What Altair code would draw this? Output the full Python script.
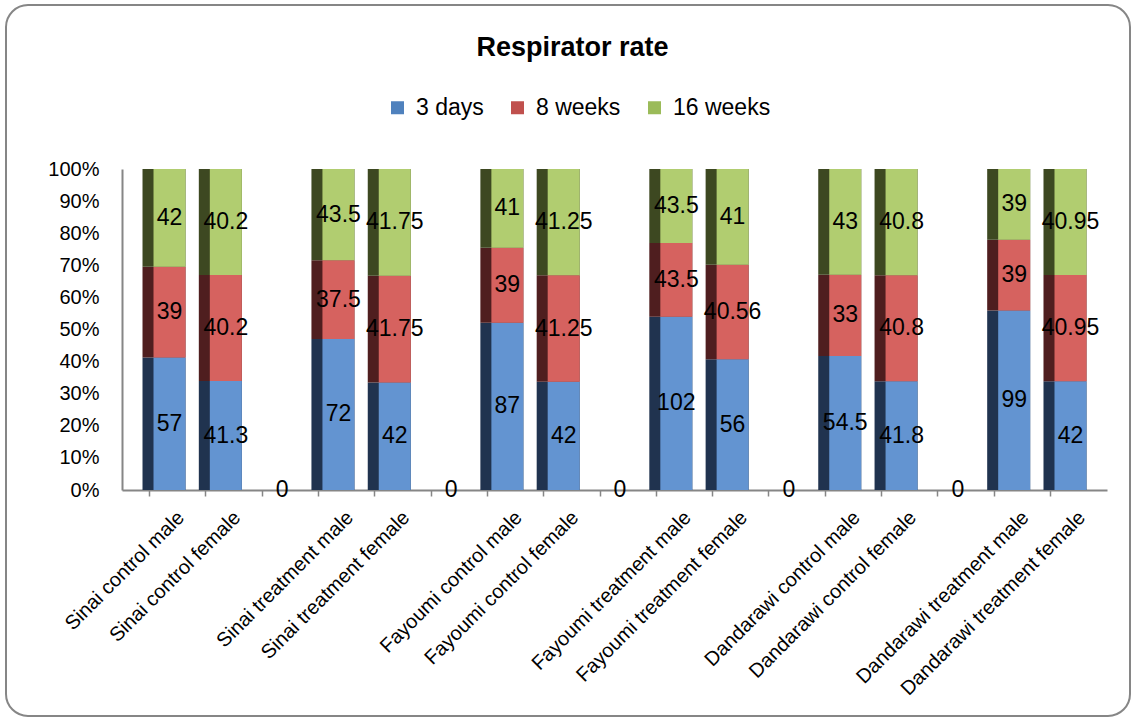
import altair as alt
import pandas as pd

categories = [
    "Sinai control male", "Sinai control female", " ",
    "Sinai treatment male", "Sinai treatment female", "  ",
    "Fayoumi control male", "Fayoumi control female", "   ",
    "Fayoumi treatment male", "Fayoumi treatment female", "    ",
    "Dandarawi control male", "Dandarawi control female", "     ",
    "Dandarawi treatment male", "Dandarawi treatment female",
]
bar_categories = [c for c in categories if c.strip()]
blank_categories = [c for c in categories if not c.strip()]

series = ["3 days", "8 weeks", "16 weeks"]
days3 = [57, 41.3, 72, 42, 87, 42, 102, 56, 54.5, 41.8, 99, 42]
weeks8 = [39, 40.2, 37.5, 41.75, 39, 41.25, 43.5, 40.56, 33, 40.8, 39, 40.95]
weeks16 = [42, 40.2, 43.5, 41.75, 41, 41.25, 43.5, 41, 43, 40.8, 39, 40.95]
blank_values = [0, 0, 0, 0, 0]
y_ticks = [0, 0.1, 0.2, 0.3, 0.4, 0.5, 0.6, 0.7, 0.8, 0.9, 1.0]

face_colors = ["#6394D1", "#D6625F", "#B1CD70"]
dark_colors = ["#20334F", "#4F1E1F", "#3D4821"]
legend_colors = ["#4F81BD", "#C0504D", "#9BBB59"]

FONT = "Liberation Sans"

rows = []
for i, c in enumerate(bar_categories):
    for k, (s, vals) in enumerate(zip(series, [days3, weeks8, weeks16])):
        rows.append(dict(cat=c, series=s, order=k, value=vals[i],
                         label=f"{vals[i]:g}", face=face_colors[k], dark=dark_colors[k]))
df = pd.DataFrame(rows)
blank_df = pd.DataFrame({"cat": blank_categories, "value": blank_values,
                         "label": [f"{v:g}" for v in blank_values]})

xenc = alt.X(
    "cat:N",
    sort=categories,
    scale=alt.Scale(domain=categories, paddingInner=0.236, paddingOuter=0.364),
    axis=alt.Axis(title=None, labelAngle=-45, labelFontSize=20, labelFont=FONT,
                  labelColor="black", bandPosition=0.163, labelOffset=10,
                  labelLimit=400, labelOverlap=False,
                  tickSize=6, tickColor="#868686", tickWidth=1.5,
                  domainColor="#868686", domainWidth=2, labelPadding=11),
)
ysc = alt.Scale(domain=[0, 1])
yaxis = alt.Axis(title=None, format=".0%", values=y_ticks,
                 grid=False, ticks=False, labelPadding=23, labelFontSize=20,
                 labelOverlap=False, labelBound=False, labelFlush=False,
                 labelFont=FONT, labelColor="black", domainColor="#868686",
                 domainWidth=2)


def yenc(field):
    return alt.Y(field, scale=ysc, axis=yaxis)


base = alt.Chart(df).transform_stack(
    stack="value", groupby=["cat"], as_=["y0", "y1"], offset="normalize",
    sort=[alt.SortField("order")],
).transform_calculate(mid="(datum.y0 + datum.y1) / 2")

dark_bars = base.mark_bar(size=43).encode(
    x=xenc, y=yenc("y0:Q"), y2="y1:Q",
    color=alt.Color("dark:N", scale=None),
)
face_bars = base.mark_bar(size=32, xOffset=5.5).encode(
    x=xenc, y=yenc("y0:Q"), y2="y1:Q",
    color=alt.Color("face:N", scale=None),
)
legend_layer = base.mark_square(opacity=0).encode(
    x=xenc, y=yenc("mid:Q"),
    color=alt.Color("series:N", scale=alt.Scale(domain=series, range=legend_colors),
                    legend=alt.Legend(orient="none", legendX=264, legendY=-73,
                                      direction="horizontal", title=None,
                                      symbolType="square", symbolSize=169,
                                      symbolOpacity=1, symbolStrokeWidth=0,
                                      labelFontSize=23, labelFont=FONT,
                                      labelColor="black", columnPadding=22,
                                      labelOffset=7)),
)
texts = base.mark_text(xOffset=5.5, fontSize=23, font=FONT, color="black",
                       baseline="middle").encode(
    x=xenc, y=yenc("mid:Q"), text="label:N",
)
zeros = alt.Chart(blank_df).mark_text(xOffset=5.5, fontSize=23, font=FONT,
                                      color="black", baseline="middle").encode(
    x=xenc, y=yenc("value:Q"), text="label:N",
)
border = alt.Chart(pd.DataFrame({"b": [0]})).mark_rect(
    fill=None, stroke="#868686", strokeWidth=2, cornerRadius=22,
).encode(x=alt.value(-116), x2=alt.value(1008), y=alt.value(-164), y2=alt.value(547))

chart = alt.layer(border, dark_bars, face_bars, legend_layer, texts, zeros).properties(
    width=985, height=321,
    padding={"left": 122, "top": 169, "right": 27, "bottom": 229},
    autosize=alt.AutoSizeParams(type="none"),
    title=alt.TitleParams("Respirator rate", fontSize=27, font=FONT,
                          fontWeight="bold", anchor="middle", frame="group",
                          dx=-42, offset=-58, color="black"),
).configure_view(stroke=None).configure_axisY(labelOverlap=False).resolve_scale(color="independent")

chart.save("out.html", embed_options={"renderer": "svg", "actions": False})
